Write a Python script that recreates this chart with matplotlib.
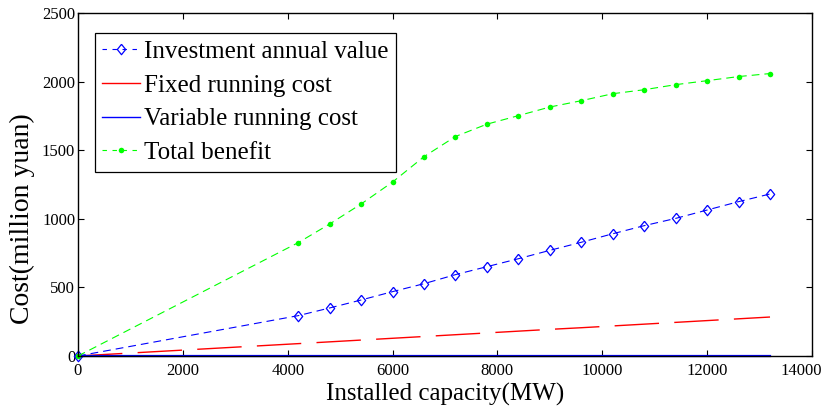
import matplotlib
matplotlib.use('Agg')
import matplotlib.pyplot as plt
import matplotlib.transforms as mtransforms
from matplotlib.lines import Line2D

plt.rcParams['font.family'] = 'serif'
plt.rcParams['font.serif'] = ['Liberation Serif', 'DejaVu Serif']

# Installed capacity [MW]
capacity = [0, 4200, 4800, 5400, 6000, 6600, 7200, 7800, 8400, 9000,
            9600, 10200, 10800, 11400, 12000, 12600, 13200]

# Costs / benefit [million yuan]
investment = [0, 294, 350, 408, 469, 527, 593, 651, 709, 770,
              829, 891, 950, 1003, 1064, 1125, 1181]
fixed_cost = [0, 90, 103, 116, 129, 142, 155, 168, 181, 194,
              206, 219, 232, 245, 258, 271, 284]
variable_cost = [0] * len(capacity)
total_benefit = [0, 826, 962, 1108, 1268, 1453, 1600, 1690, 1752, 1815,
                 1861, 1912, 1941, 1978, 2007, 2037, 2059]

# open diamond, a bit narrower than tall (MATLAB style)
DIAMOND = [(0, 1), (0.8, 0), (0, -1), (-0.8, 0), (0, 1)]

fig = plt.figure(figsize=(8.27, 4.08), dpi=100)
ax = fig.add_axes([0.0943, 0.1275, 0.8875, 0.8405])

ax.plot(capacity, fixed_cost, color='red', linewidth=1.0,
        linestyle=(0, (32, 11)), clip_on=False)
ax.plot(capacity, variable_cost, color='#0000ff', linewidth=1.6, clip_on=False)
ax.plot(capacity, investment, color='#0000ff', linewidth=0.8,
        linestyle=(0, (7, 4.5)), marker=DIAMOND, markersize=7.5,
        markerfacecolor='none', markeredgewidth=0.9, clip_on=False)
ax.plot(capacity, total_benefit, color='#00ff00', linewidth=0.8,
        linestyle=(0, (7, 4.5)), marker='o', markersize=4,
        markeredgewidth=0, clip_on=False)

ax.set_xlim(0, 14000)
ax.set_ylim(0, 2500)
ax.set_xticks(range(0, 14001, 2000))
ax.set_yticks(range(0, 2501, 500))
ax.tick_params(direction='in', top=True, right=True, length=4,
               width=0.8, labelsize=12)
ax.tick_params(axis='x', pad=5)
ax.tick_params(axis='y', pad=2)
for s in ax.spines.values():
    s.set_linewidth(1.0)

# last x label pulled in so it stays inside the figure, like the original
last = ax.get_xticklabels()[-1]
last.set_horizontalalignment('right')
last.set_transform(last.get_transform() +
                   mtransforms.ScaledTranslation(0.1, 0, fig.dpi_scale_trans))

ax.set_xlabel('Installed capacity(MW)', fontsize=18, labelpad=3)
ax.set_ylabel('Cost(million yuan)', fontsize=20)
ax.yaxis.set_label_coords(-0.058, 0.40)

handles = [
    Line2D([], [], color='#0000ff', linewidth=0.8, linestyle=(0, (4, 5)),
           marker=DIAMOND, markersize=7.5, markerfacecolor='none',
           markeredgewidth=0.9),
    Line2D([], [], color='red', linewidth=1.0),
    Line2D([], [], color='#0000ff', linewidth=1.0),
    Line2D([], [], color='#00ff00', linewidth=0.8, linestyle=(0, (4, 5)),
           marker='o', markersize=4, markeredgewidth=0),
]
labels = ['Investment annual value', 'Fixed running cost',
          'Variable running cost', 'Total benefit']
leg = ax.legend(handles, labels, loc='upper left', bbox_to_anchor=(0.023, 0.942),
                fontsize=18, fancybox=False, edgecolor='black', framealpha=1,
                handlelength=1.5, handletextpad=0.15, labelspacing=0.45,
                borderpad=0.3, borderaxespad=0, numpoints=1)
leg.get_frame().set_linewidth(0.9)

fig.savefig('out.png', dpi=100)
